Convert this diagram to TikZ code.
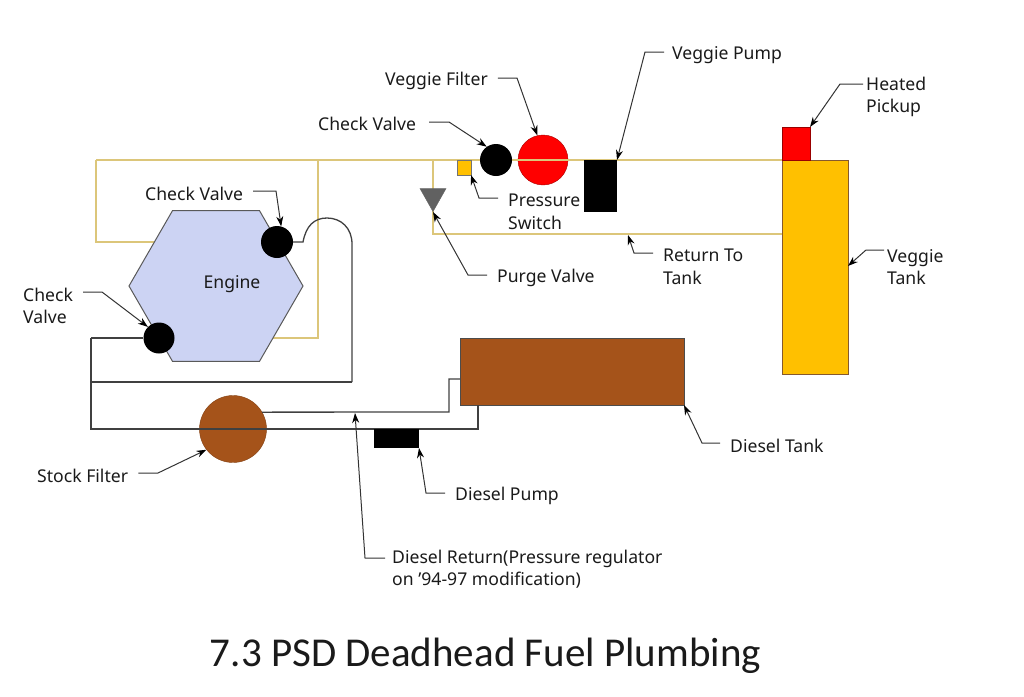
\documentclass[tikz,border=0pt]{standalone}
\usepackage{fontspec}
\setmainfont{Noto Sans}
\newfontfamily\titlefont{Carlito}
\usetikzlibrary{arrows.meta,shapes.geometric}
\definecolor{vegline}{HTML}{DCC67A}
\definecolor{fuelline}{HTML}{404040}
\definecolor{brownfill}{HTML}{A5531A}
\definecolor{tankyellow}{HTML}{FFC000}
\definecolor{txt}{HTML}{1A1A1A}
\tikzset{
  x=1pt,y=-1pt,
  lbl/.style={anchor=west,inner sep=0pt,align=left,text=txt,font=\fontsize{17.6}{22.5}\selectfont},
  leader/.style={draw=black!80,line width=1pt,-{Stealth[length=10pt,width=7pt,black]}},
  vegpipe/.style={draw=vegline,line width=1.4pt},
  fuelpipe/.style={draw=fuelline,line width=1.3pt},
  blackvalve/.style={circle,fill=black,inner sep=0pt,minimum size=#1},
  box/.style={rectangle,inner sep=0pt,outer sep=0pt},
}
\begin{document}
\begin{tikzpicture}
\useasboundingbox (0,0) rectangle (1024,696);
% junctions
\coordinate (mainL) at (96,160);
\coordinate (loopL) at (96,242);
\coordinate (loopR) at (318,160);
\coordinate (loopB) at (318,338);
\coordinate (retT) at (433,160);
\coordinate (retB) at (433,234);
\coordinate (supA) at (91,338);
\coordinate (supB) at (91,429);
\coordinate (supR) at (478,429);
\coordinate (rtnR) at (352,382);
\coordinate (rtnL) at (91,382);
\coordinate (curveS) at (303,242);
\coordinate (dretA) at (449,412);
\coordinate (dretB) at (449,379);
% veggie lines behind the engine
\draw[vegpipe] (mainL) -- (loopL) -- (200,242);
\draw[vegpipe] (loopR) -- (loopB) -- (250,338);
% tanks and large parts
\node (vtank) [box,draw=brown!70!black,fill=tankyellow,minimum width=66pt,minimum height=214pt] at (815,267) {};
\node (pickup) [box,draw=red!60!black,fill=red,minimum width=28pt,minimum height=33pt] at (796,143.5) {};
\node (vfilter) [circle,draw=red!65!black,fill=red,inner sep=0pt,minimum size=50pt] at (543,160) {};
\node (stock) [circle,draw=brownfill!80!black,fill=brownfill,inner sep=0pt,minimum size=67pt] at (233,429) {};
\node (dtank) [box,draw=black!70,fill=brownfill,minimum width=224pt,minimum height=67pt] at (572,371.5) {};
% pipes
\draw[vegpipe] (mainL) -- (vtank.north west);
\draw[vegpipe] (retT) -- (retB) -- (retB -| vtank.west);
\draw[fuelpipe] (supA) -- (supB) -- (supR) -- (supR |- dtank.south);
\draw[fuelpipe] (rtnL) -- (rtnR);
\draw[fuelpipe] (stock.30) -- (dretA) -- (dretB) -- (dretB -| dtank.west);
% engine
\node (engine) [regular polygon,regular polygon sides=6,draw=black!65,line width=1pt,fill={rgb,255:red,204;green,211;blue,243},inner sep=0pt,minimum size=174pt] at (216,286) {};
\node (englbl) [inner sep=0pt,text=txt,font=\fontsize{17.6}{22}\selectfont] at (232,284) {Engine};
% small parts
\node (cvtop) [blackvalve=32pt] at (496,160) {};
\node (cvin) [blackvalve=32pt] at (277,242) {};
\node (cvleft) [blackvalve=31pt] at (159,338) {};
\node (vpump) [box,fill=black,minimum width=33pt,minimum height=52pt] at (600.5,186) {};
\node (dpump) [box,fill=black,minimum width=45pt,minimum height=19pt] at (396.5,438.5) {};
\node (pswitch) [box,draw=black!55,fill=tankyellow,minimum width=14pt,minimum height=15pt] at (464,167.5) {};
\node (purge) [isosceles triangle,isosceles triangle apex angle=60,isosceles triangle stretches,shape border rotate=-90,draw=black!60,fill=black!62,inner sep=0pt,minimum height=23pt,minimum width=26pt,anchor=apex] at (433,212) {};
% return line from the inner check valve
\draw[fuelpipe] (cvin.east) -- (curveS) .. controls (306,226) and (314,218) .. (327,218) .. controls (341,218) and (352,228) .. (352,244) -- (rtnR);
\draw[fuelpipe] (cvleft.west) -- (supA);
% labels
\node (lVF) [lbl] at (385,81) {Veggie Filter};
\node (lCV1) [lbl] at (318,124) {Check Valve};
\node (lCV2) [lbl] at (145,194) {Check Valve};
\node (lCV3) [lbl] at (23,306) {Check\\Valve};
\node (lPS) [lbl] at (508,212) {Pressure\\Switch};
\node (lPV) [lbl] at (497,278) {Purge Valve};
\node (lRT) [lbl] at (663,267) {Return To\\Tank};
\node (lVT) [lbl] at (887,267) {Veggie\\Tank};
\node (lHP) [lbl] at (866,97) {Heated\\Pickup};
\node (lVP) [lbl] at (672,55) {Veggie Pump};
\node (lDT) [lbl] at (730,446) {Diesel Tank};
\node (lDP) [lbl] at (455,496) {Diesel Pump};
\node (lSF) [lbl] at (37,476) {Stock Filter};
\node (lDR) [lbl] at (392,569) {Diesel Return(Pressure regulator\\on '94-97 modification)};
\node (title) [inner sep=0pt,text=txt,font=\titlefont\fontsize{41}{46}\selectfont] at (485.5,656) {7.3 PSD Deadhead Fuel Plumbing};
% leaders
\coordinate (tRT) at (628,235);
\coordinate (tDR) at (355,413);
\draw[leader] ([shift={(10,-3)}]lVF.east) -- (517,78) -- (vfilter.103);
\draw[leader] ([shift={(13,-2)}]lCV1.east) -- (449,122) -- (cvtop.125);
\draw[leader] ([shift={(10,-3)}]lCV2.east) -- (276,191) -- (cvin.75);
\draw[leader] ([shift={(10,-14)}]lCV3.east) -- (102,292) -- (cvleft.135);
\draw[leader] ([shift={(-10,-14)}]lPS.west) -- (479,198) -- (pswitch.south east);
\draw[leader] ([shift={(-10,-3)}]lPV.west) -- (468,275) -- (purge.apex);
\draw[leader] ([shift={(-10,-14)}]lRT.west) -- (634,253) -- (tRT);
\draw[leader] ([shift={(-8,-3)}]lVP.west) -- (645,52) -- (vpump.north east);
\draw[leader] ([shift={(-3,-13)}]lHP.west) -- (840,84) -- (pickup.north east);
\draw[leader] ([shift={(-3,-17)}]lVT.west) -- (866,250) -- (vtank.east |- 0,266);
\draw[leader] ([shift={(-10,-3)}]lDT.west) -- (702,443) -- (dtank.south east);
\draw[leader] ([shift={(-10,-3)}]lDP.west) -- (426,493) -- (dpump.south east);
\draw[leader] ([shift={(-7,-11)}]lDR.west) -- (365,558) -- (tDR);
\draw[leader] ([shift={(10,-3)}]lSF.east) -- (158,473) -- (stock.218);
\end{tikzpicture}
\end{document}
